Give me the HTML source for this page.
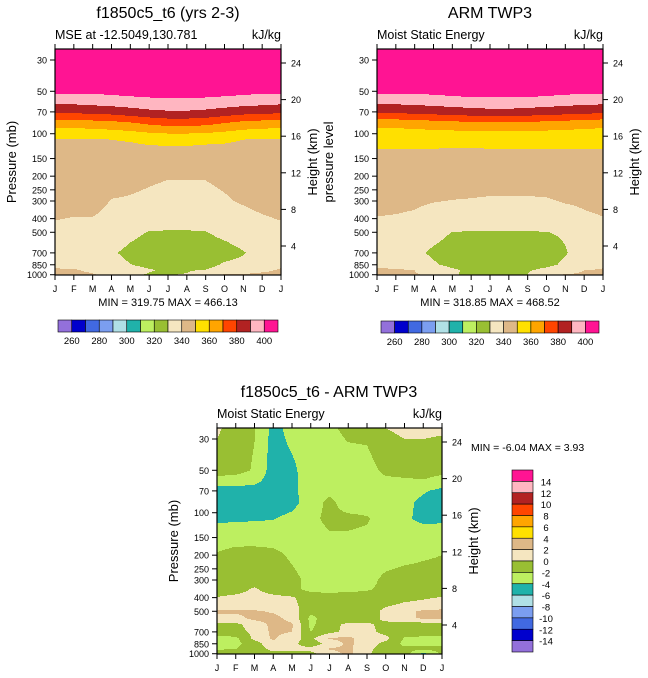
<!DOCTYPE html>
<html><head><meta charset="utf-8">
<style>
body{margin:0;background:#fff;}
svg{display:block;font-family:"Liberation Sans",sans-serif;}
</style></head>
<body>
<svg id="chart" width="648" height="678" viewBox="0 0 648 678" xmlns="http://www.w3.org/2000/svg"></svg>
<script>
// ---------- data ----------
const months = ["J","F","M","A","M","J","J","A","S","O","N","D","J"];
const pressureLevels = [20,50,60,70,85,110,200,300,400,500,700,850,925,1000];
const diffPressureLevels = [20,50,60,70,85,110,200,300,350,400,450,500,560,620,700,780,850,925,1000];
const pressureTicks = [30,50,70,100,150,200,250,300,400,500,700,850,1000];
const heightTicks = [4,8,12,16,20,24];
const absLevels = [260,270,280,290,300,310,320,330,340,350,360,370,380,390,400];
const absLabels = ["260","280","300","320","340","360","380","400"];
const diffLevels = [-14,-12,-10,-8,-6,-4,-2,0,2,4,6,8,10,12,14];
const diffLabels = ["14","12","10","8","6","4","2","0","-2","-4","-6","-8","-10","-12","-14"];
const palette = ["#9370DB","#0000CD","#4169E1","#7B9EF0","#B0E0E6","#20B2AA","#BDEF60","#99BF33","#F5E6C0","#DEB887","#FFE000","#FFA500","#FF4500","#B22222","#FFB6C1","#FF1493"];

// model MSE (rows = pressureLevels, cols = months)
const modelMSE = [
 [460,460,460,460,460,460,460,460,460,460,460,460,460],
 [402,402,402,403,404,405,405,405,405,404,403,402,402],
 [392,392,393,394,395,396,397,397,396,395,394,393,392],
 [382,382,383,384,386,388,389,389,388,386,384,383,382],
 [364,364,365,366,368,371,373,373,372,369,366,365,364],
 [349,349,349.5,350,350.5,351.5,352,352,351.5,351,350,349,349],
 [346,346,346,345,343,341.5,340.5,340.5,340.5,342,344,346,346],
 [344,344,344,339.5,339,338,337,337,337.5,339,341,343,344],
 [340.5,339.5,339.5,337,335,334,333.5,333.5,334,335,337,339,340.5],
 [337,336.5,336,335,332,329.6,329.4,329.4,329.7,332,334,336,337],
 [335,335,334,331,328,326,325.5,325.5,326,327,329.5,333,335],
 [339,338,335,333,330.2,328,327,327,327.5,331,332,334,339],
 [340.5,340.5,339,336,333,330.5,329,329,330.2,333,336,339,340.5],
 [341,341,340.5,338,331,329.5,329.5,330.5,338,340.5,341,341,341]
];
// observed MSE
const obsMSE = [
 [460,460,460,460,460,460,460,460,460,460,460,460,460],
 [402,402,402,403,404,405,405,405,405,404,403,402,402],
 [392,392,392.5,393.5,394.5,395.5,396,396,395.5,394.5,393.5,392.5,392],
 [382,382,383,384,385,386,387,387,386,385,384,383,382],
 [363,363,364,365,366,367,367.5,367.5,367,366,365,364,363],
 [352,352,352,352,351.8,351.8,352,352,352,352,352,352,352],
 [344,344,344,344,344,344,344,344,344,344,344,344,344],
 [341.5,341.5,341,340.3,339.8,339.5,339,339,339,339.3,340.5,341,341.5],
 [339.8,339.5,339,337,336,335.5,335,335,335,335.5,337,339,339.8],
 [337,336.5,336,333,329.8,329.5,329.3,329.3,329.5,329.8,331,335,337],
 [335,334.5,332,328.5,326,325,324,324,325,326,329.5,333,335],
 [339,338.5,335,331,328,326,325.5,325.5,326,328,331.5,334,339],
 [340.5,340.5,340,335,331,328.5,328,328,329,332,336,340,340.5],
 [341,341,340.5,339,330.5,329,328.5,329,330,338,340.5,341,341]
];
// difference (model - obs), rows = diffPressureLevels
const diffMSE = [
 [0.8,-1,-1.8,-4.5,-3,-3,-2.2,-1,-1,0.5,0.8,0.8,0.8],
 [-1,-1.3,-2.2,-5,-4.4,-3,-3,-3,-2.8,-1.5,-1,-1,-1.3],
 [-3,-3,-3.5,-5,-4.5,-3,-3,-3,-3,-2.5,-2.5,-2.2,-3],
 [-5,-5,-5,-5.2,-4.5,-3,-2.5,-3,-3,-3,-3,-3.8,-4.5],
 [-5,-5,-5,-5,-4.6,-3,-1.5,-3,-3,-3,-3.5,-4.5,-5],
 [-4.3,-4.3,-4.2,-4.1,-3.5,-2.5,-1.5,-1.5,-1.8,-3,-3.8,-4.3,-4.3],
 [-1.8,-1.3,-1.3,-1.5,-2.3,-3,-3,-3,-3,-3,-2.7,-2.3,-2],
 [-1,-1,-1,-1,-1.5,-2.5,-3,-3,-2.7,-1.5,-1,-1,-1],
 [-1,-0.8,0.3,-1,-1.5,-2.5,-2.5,-2.5,-2.2,-1.5,-1,-1,-1],
 [0.1,0.5,0.8,0.6,0.2,-1,-1.3,-1,-1,-1,-0.5,-0.2,0.1],
 [0.8,0.8,1,1,0.5,-1,-1,-1,-1,-0.3,0.3,0.5,0.8],
 [2.3,2.3,2.2,1.8,1,-1.5,-1,-1,-1,0.5,1.5,2.3,2.5],
 [1.5,1.5,2.5,2.5,1.5,-2.5,-1,-1,-1,0.5,1.5,2.3,2.2],
 [-0.5,-0.5,1,2.5,2.2,-2.5,-0.5,0.3,0.3,-0.5,-1,-1,-1],
 [-1,-0.8,0.5,2.5,2,-2,-0.5,0.5,0.5,-0.5,-1,-1,-1],
 [-2.5,-2.5,0.5,2.3,0.5,-0.5,2.2,2.6,0.8,0.5,-2.2,-2.5,-2.5],
 [-2.5,-2.5,-1,1.5,0.5,-1,0.5,2.5,0.8,-0.5,-2.5,-2.5,-2.5],
 [-2.2,-2,-1,0.5,0.5,0.5,2.2,2.5,0.5,-1,-1.5,-1.5,-1.5],
 [-1,-1,-1,-0.5,-0.5,-0.5,1,2.5,0.3,-1,-1,-4.5,-1.5]
];

// ---------- drawing ----------
const NS="http://www.w3.org/2000/svg";
const svg=document.getElementById('chart');
function mk(tag,attrs,parent){const e=document.createElementNS(NS,tag);for(const k in attrs)e.setAttribute(k,attrs[k]);(parent||svg).appendChild(e);return e;}
function txt(s,attrs,parent){const e=mk('text',attrs,parent);e.textContent=s;return e;}

function colorIndex(v,levels){let i=0;while(i<levels.length&&v>=levels[i])i++;return i;}
function sample(data,plev,m,lp){
  const lps=plev.map(p=>Math.log10(p));
  let r=0;
  if(lp<=lps[0])r=0;else if(lp>=lps[lps.length-1])r=lps.length-1.0001;
  else{while(lps[r+1]<lp)r++;r=r+(lp-lps[r])/(lps[r+1]-lps[r]);}
  const r0=Math.floor(r),r1=Math.min(r0+1,lps.length-1),fr=r-r0;
  const c=Math.max(0,Math.min(12,m));const c0=Math.floor(c),c1=Math.min(c0+1,12),fc=c-c0;
  const a=data[r0][c0]*(1-fc)+data[r0][c1]*fc;
  const b=data[r1][c0]*(1-fc)+data[r1][c1]*fc;
  return a*(1-fr)+b*fr;
}

function panel(o){
  const g=mk('g',{},svg);
  
  
  const {x0,x1,y0,y1}=o;
  const pxPerDec=141, y30=y0+11;
  const yOfP=p=>y30+(Math.log10(p)-Math.log10(30))*pxPerDec;
  const pOfY=y=>Math.pow(10,Math.log10(30)+(y-y30)/pxPerDec);
  const xOfM=m=>x0+m*(x1-x0)/12;
  const field=mk('g',{},g);
  
  
  for(let y=y0;y<y1;y++){
    const lp=Math.log10(pOfY(y+0.5));
    let runStart=x0,runC=-1;
    for(let x=x0;x<=x1;x++){
      let ci=-1;
      if(x<x1){const m=(x+0.5-x0)/(x1-x0)*12;ci=colorIndex(sample(o.data,o.plev,m,lp),o.levels);}
      if(ci!==runC){
        if(runC>=0){const r=mk('rect',{x:runStart,y:y,width:x-runStart,height:1.05,fill:palette[runC]},field);
          
          }
        runStart=x;runC=ci;
      }
    }
  }
  mk('rect',{x:x0,y:y0,width:x1-x0,height:y1-y0,fill:'none',stroke:'#000','stroke-width':1.2},g);
  pressureTicks.forEach(p=>{const y=yOfP(p);
    mk('line',{x1:x0-5,x2:x0,y1:y,y2:y,stroke:'#000'},g);
    const t=txt(String(p),{x:x0-8,y:y+3.5,'font-size':9,'text-anchor':'end'},g);
    
    });
  heightTicks.forEach(k=>{const y=y0+197-(k-4)*9.15;
    mk('line',{x1:x1,x2:x1+5,y1:y,y2:y,stroke:'#000'},g);
    const t=txt(String(k),{x:x1+10,y:y+3.5,'font-size':9},g);
    
    });
  months.forEach((mn,i)=>{const x=xOfM(i);
    mk('line',{x1:x,x2:x,y1:y1,y2:y1+5,stroke:'#000'},g);
    mk('line',{x1:x,x2:x,y1:y0,y2:y0-5,stroke:'#000'},g);
    const t=txt(mn,{x:x,y:y1+17,'font-size':9,'text-anchor':'middle'},g);
    
    });
  const cx=(x0+x1)/2;
  const tt=txt(o.title,{x:o.titleX||cx,y:y0-31,'font-size':16,'text-anchor':'middle'},g);
  
  
  const st=txt(o.sub,{x:x0,y:y0-10,'font-size':12.5},g);
  
  
  const ut=txt('kJ/kg',{x:x1,y:y0-10,'font-size':12.5,'text-anchor':'end'},g);
  
  
  const ly=(y0+y1)/2;
  const yl=txt(o.ylabel,{x:o.ylx,y:ly,'font-size':13,'text-anchor':'middle',transform:`rotate(-90 ${o.ylx} ${ly})`},g);
  
  
  const hx=x1+36;
  const hl=txt('Height (km)',{x:hx,y:ly,'font-size':13,'text-anchor':'middle',transform:`rotate(-90 ${hx} ${ly})`},g);
  
  
  if(o.minmax){const mm=txt(o.minmax,{x:cx,y:y1+31,'font-size':11,'text-anchor':'middle'},g);
    
    }
}

function hColorbar(x,y,w,h,name){
  const g=mk('g',{},svg);
  
  
  const bw=w/16;
  palette.forEach((c,i)=>{mk('rect',{x:x+i*bw,y:y,width:bw,height:h,fill:c,stroke:'#000','stroke-width':0.6},g);});
  absLabels.forEach((l,i)=>{const t=txt(l,{x:x+(1+2*i)*bw,y:y+24,'font-size':9.5,'text-anchor':'middle'},g);
    
    });
}

panel({name:'model-panel',x0:55,x1:281,y0:49,y1:275,data:modelMSE,plev:pressureLevels,levels:absLevels,title:'f1850c5_t6 (yrs 2-3)',sub:'MSE at -12.5049,130.781',ylabel:'Pressure (mb)',ylx:16,minmax:'MIN = 319.75 MAX = 466.13'});
panel({name:'obs-panel',x0:377,x1:603,y0:49,y1:275,data:obsMSE,plev:pressureLevels,levels:absLevels,title:'ARM TWP3',sub:'Moist Static Energy',ylabel:'pressure level',ylx:333,minmax:'MIN = 318.85 MAX = 468.52'});
panel({name:'diff-panel',x0:217,x1:442,y0:428,y1:654,data:diffMSE,plev:diffPressureLevels,levels:diffLevels,title:'f1850c5_t6 - ARM TWP3',titleX:329,sub:'Moist Static Energy',ylabel:'Pressure (mb)',ylx:178});
hColorbar(58,320,220,12,'model-colorbar');
hColorbar(381,321,218,12,'obs-colorbar');

const dm=txt('MIN =  -6.04 MAX =   3.93',{x:471,y:451,'font-size':10.5});


(function(){
  const g=mk('g',{},svg);
  
  
  const x=512,y=470,w=21,h=182,bh=h/16;
  palette.slice().reverse().forEach((c,i)=>{mk('rect',{x:x,y:y+i*bh,width:w,height:bh,fill:c,stroke:'#000','stroke-width':0.6},g);});
  diffLabels.forEach((l,i)=>{const t=txt(l,{x:546,y:y+(i+1)*bh+4,'font-size':9.5,'text-anchor':'middle'},g);
    
    });
})();
</script>
</body></html>
